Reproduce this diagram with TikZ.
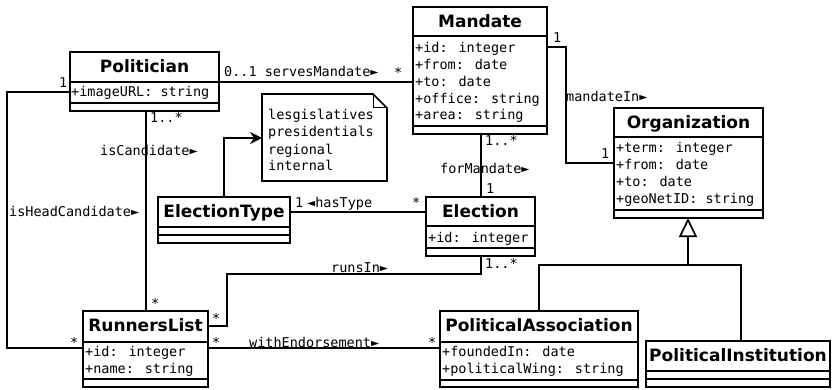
\documentclass[tikz,border=0pt]{standalone}
\usepackage{fontspec}
\setmainfont{DejaVu Sans}
\newfontfamily\umlmono{DejaVu Sans Mono}
\usetikzlibrary{arrows.meta,calc}
\tikzset{
  classbox/.style={draw,line width=1.7pt,anchor=north west,inner sep=0pt,outer sep=0pt},
  ctitle/.style={anchor=base,inner sep=0pt,font=\fontsize{17}{18}\selectfont\bfseries},
  attr/.style={anchor=base west,inner sep=0pt,font=\fontsize{13.5}{17}\selectfont\umlmono},
  lbl/.style={anchor=base west,inner sep=0pt,font=\fontsize{13.5}{17}\selectfont\umlmono},
  assoc/.style={line width=1.7pt},
}
\begin{document}
\begin{tikzpicture}[x=1pt,y=-1pt]
\useasboundingbox (0,0) rectangle (834,390);

% Politician
\node[classbox,minimum width=149pt,minimum height=59pt] (politician) at (70,52) {};
\draw[assoc] (70,82) -- (219,82) (70,103) -- (219,103);
\node[ctitle] (politician-t) at (144.5,72.5) {Politician};
\node[attr] (politician-a0) at (71,96.7) {+imageURL: string};

% Mandate
\node[classbox,minimum width=134pt,minimum height=127pt] (mandate) at (413,7) {};
\draw[assoc] (413,36) -- (547,36) (413,126) -- (547,126);
\node[ctitle] (mandate-t) at (480,27.5) {Mandate};
\foreach \a [count=\i from 0] in {+id: integer,+from: date,+to: date,+office: string,+area: string}
  \node[attr] (mandate-a\i) at (415,52.7+16.8*\i) {\a};

% Organization
\node[classbox,minimum width=149pt,minimum height=110pt] (org) at (614,108) {};
\draw[assoc] (614,137) -- (763,137) (614,210) -- (763,210);
\node[ctitle] (org-t) at (688.5,128.5) {Organization};
\foreach \a [count=\i from 0] in {+term: integer,+from: date,+to: date,+geoNetID: string}
  \node[attr] (org-a\i) at (616,152.7+17*\i) {\a};

% Election
\node[classbox,minimum width=109pt,minimum height=59pt] (election) at (426,197) {};
\draw[assoc] (426,226) -- (535,226) (426,248) -- (535,248);
\node[ctitle] (election-t) at (480.5,217.5) {Election};
\node[attr] (election-a0) at (428,242.7) {+id: integer};

% ElectionType
\node[classbox,minimum width=132pt,minimum height=46pt] (etype) at (158,197) {};
\draw[assoc] (158,227) -- (290,227) (158,235) -- (290,235);
\node[ctitle] (etype-t) at (224,217.5) {ElectionType};

% RunnersList
\node[classbox,minimum width=125pt,minimum height=76pt] (runners) at (83,311) {};
\draw[assoc] (83,342) -- (208,342) (83,379) -- (208,379);
\node[ctitle] (runners-t) at (145.5,331.5) {RunnersList};
\foreach \a [count=\i from 0] in {+id: integer,+name: string}
  \node[attr] (runners-a\i) at (85,356.7+16.7*\i) {\a};

% PoliticalAssociation
\node[classbox,minimum width=198pt,minimum height=76pt] (polassoc) at (440,311) {};
\draw[assoc] (440,342) -- (638,342) (440,380) -- (638,380);
\node[ctitle] (polassoc-t) at (539,331.5) {PoliticalAssociation};
\foreach \a [count=\i from 0] in {+foundedIn: date,+politicalWing: string}
  \node[attr] (polassoc-a\i) at (442,356.7+16.7*\i) {\a};

% PoliticalInstitution
\node[classbox,minimum width=184pt,minimum height=46pt] (polinst) at (646,341) {};
\draw[assoc] (646,371) -- (830,371) (646,379) -- (830,379);
\node[ctitle] (polinst-t) at (738,361.5) {PoliticalInstitution};

% note with the election types
\node[anchor=north west,inner sep=0pt,outer sep=0pt,minimum width=125pt,minimum height=87pt] (note) at (262,94) {};
\draw[assoc] (note.north west) -- ($(note.north east)+(-14,0)$) -- ($(note.north east)+(0,14)$)
  -- (note.south east) -- (note.south west) -- cycle;
\draw[line width=1pt] ($(note.north east)+(-14,0)$) |- ($(note.north east)+(0,14)$);
\foreach \a [count=\i from 0] in {lesgislatives,presidentials,regional,internal}
  \node[attr] (note-a\i) at (268,120+17*\i) {\a};

% associations
\coordinate (headbend) at (7,92);
\coordinate (mbend) at (566,47);
\coordinate (runsbend) at (227,274);
\draw[assoc] (politician.east |- 0,82) -- (mandate.west |- 0,82);
\draw[assoc] (politician.west |- headbend) -- (headbend) |- (runners.west |- 0,348);
\draw[assoc] (politician.south -| 146,0) -- (runners.north -| 146,0);
\draw[assoc,-{Stealth[length=12pt,width=12pt]}] (etype.north) |- (note.west |- 0,138);
\draw[assoc] (etype.east |- 0,212) -- (election.west |- 0,212);
\draw[assoc] (mandate.south -| 481,0) -- (election.north -| 481,0);
\draw[assoc] (mandate.east |- mbend) -- (mbend) |- (org.west |- 0,163);
\draw[assoc] (election.south -| 481,0) |- (runsbend) |- (runners.east |- 0,326);
\draw[assoc] (runners.east |- 0,348) -- (polassoc.west |- 0,348);

% generalization
\coordinate (genjoin) at (688,265);
\coordinate (genleft) at (539,265);
\coordinate (genright) at (741,265);
\draw[assoc,-{Triangle[open,length=19pt,width=18pt]}] (genjoin) -- (org.south -| genjoin);
\draw[assoc] (polassoc.north -| genleft) -- (genleft) -- (genright) -- (polinst.north -| genright);

% labels
\node[lbl] (l-serves) at (224,77) {0..1 servesMandate►};
\node[lbl] (l-serves2) at (394,78) {*};
\node[lbl] (l-head1) at (59,88) {1};
\node[lbl] (l-head) at (9,216) {isHeadCandidate►};
\node[lbl] (l-head2) at (70,347) {*};
\node[lbl] (l-cand1) at (150,123) {1..*};
\node[lbl] (l-cand) at (100,156) {isCandidate►};
\node[lbl] (l-cand2) at (151,308) {*};
\node[lbl] (l-type1) at (295,207) {1};
\node[lbl] (l-type) at (307,207) {◄hasType};
\node[lbl] (l-type2) at (412,207) {*};
\node[lbl] (l-for1) at (485,146) {1..*};
\node[lbl] (l-for) at (440,174) {forMandate►};
\node[lbl] (l-for2) at (486,193) {1};
\node[lbl] (l-in1) at (553,43) {1};
\node[lbl] (l-in) at (566,102) {mandateIn►};
\node[lbl] (l-in2) at (601,159) {1};
\node[lbl] (l-runs1) at (485,268) {1..*};
\node[lbl] (l-runs) at (331,272) {runsIn►};
\node[lbl] (l-runs2) at (212,323) {*};
\node[lbl] (l-end1) at (212,347) {*};
\node[lbl] (l-end) at (249,347) {withEndorsement►};
\node[lbl] (l-end2) at (428,347) {*};
\end{tikzpicture}
\end{document}
